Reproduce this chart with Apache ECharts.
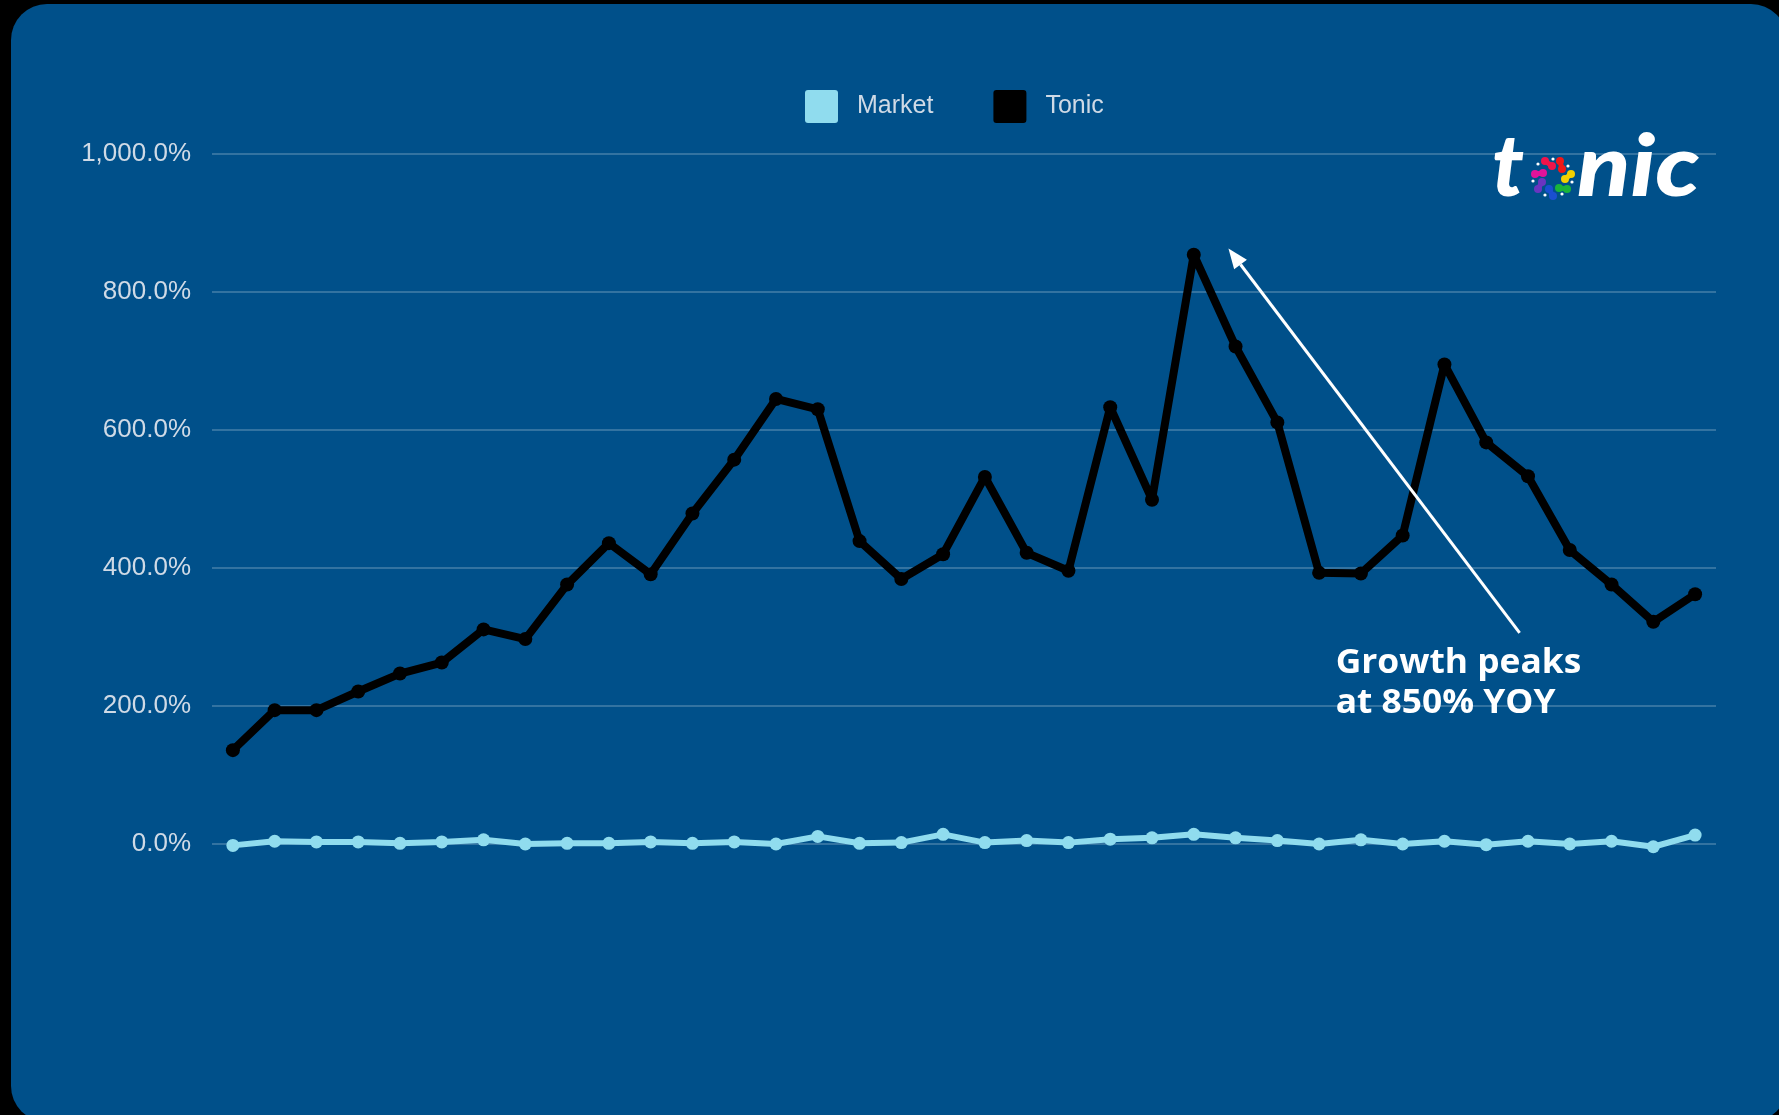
<!DOCTYPE html>
<html><head><meta charset="utf-8">
<script src="https://cdn.jsdelivr.net/npm/echarts@6/dist/echarts.min.js"></script>
<style>
html,body{margin:0;padding:0;background:#000;width:1779px;height:1115px;overflow:hidden}
#card{position:absolute;left:11px;top:4px;width:1776px;height:1118px;border-radius:36px;background:#00508a}
#chart{position:absolute;left:0;top:0;width:1779px;height:1115px}
</style></head><body>
<div id="card"></div><div id="chart"></div>
<script>
// ---- data ----
const categories = ['1','2','3','4','5','6','7','8','9','10','11','12','13','14','15','16','17','18',
  '19','20','21','22','23','24','25','26','27','28','29','30','31','32','33','34','35','36'];
const marketValues = [-2, 4, 3, 3, 1, 3, 6, 0, 1, 1, 3, 1, 3, 0, 11, 1, 2, 14,
  2, 5, 2, 7, 9, 14, 9, 5, 0, 6, 0, 4, -1, 4, 0, 4, -4, 13];
const tonicValues = [136, 194, 194, 221, 247, 263, 311, 297, 376, 436, 391, 479, 557, 645, 630, 439, 384, 420,
  532, 422, 396, 633, 499, 854, 721, 611, 393, 392, 447, 695, 582, 533, 426, 376, 322, 362];
const yTicks = [0, 200, 400, 600, 800, 1000];
const seriesNames = ['Market', 'Tonic'];
const annotationLines = ['Growth peaks', 'at 850% YOY'];
// annotation arrow in data space: [category index (fractional), value]
const arrowTail = [30.8, 306];
const arrowTip = [23.83, 863];

const C_MARKET = '#90dcee', C_TONIC = '#000000', C_LABEL = '#cfdae6';

const chart = echarts.init(document.getElementById('chart'), null, {renderer: 'canvas'});
const fmt = v => v.toLocaleString('en-US', {minimumFractionDigits: 1, maximumFractionDigits: 1}) + '%';
const sq = 'path://M3,0 H30 A3,3 0 0 1 33,3 V30 A3,3 0 0 1 30,33 H3 A3,3 0 0 1 0,30 V3 A3,3 0 0 1 3,0 Z';

chart.setOption({
  backgroundColor: 'transparent',
  animation: false,
  textStyle: {fontFamily: '"Liberation Sans", Arial, sans-serif'},
  legend: {
    left: 805, top: 90, padding: 0, itemWidth: 33, itemHeight: 33, itemGap: 60,
    icon: sq,
    textStyle: {color: C_LABEL, fontSize: 25, padding: [0, 0, 0, 14]},
    data: seriesNames.map((n, i) => ({name: n, itemStyle: {color: i === 0 ? C_MARKET : C_TONIC}}))
  },
  grid: {left: 212, right: 63, top: 154, bottom: 271, containLabel: false},
  xAxis: {
    type: 'category', data: categories, boundaryGap: true,
    axisLine: {show: false}, axisTick: {show: false}, axisLabel: {show: false}, splitLine: {show: false}
  },
  yAxis: {
    type: 'value', min: yTicks[0], max: yTicks[yTicks.length - 1], interval: yTicks[1] - yTicks[0],
    axisLine: {show: false}, axisTick: {show: false},
    axisLabel: {color: C_LABEL, fontSize: 26, margin: 21, formatter: fmt},
    splitLine: {lineStyle: {color: 'rgba(255,255,255,0.2)', width: 2}}
  },
  series: [
    {name: seriesNames[0], type: 'line', data: marketValues, clip: false, symbol: 'circle', symbolSize: 13,
     lineStyle: {color: C_MARKET, width: 6}, itemStyle: {color: C_MARKET}, z: 3},
    {name: seriesNames[1], type: 'line', data: tonicValues, clip: false, symbol: 'circle', symbolSize: 14,
     lineStyle: {color: C_TONIC, width: 8}, itemStyle: {color: C_TONIC}, z: 2}
  ]
});

// fractional category position -> pixel (interpolated between neighbouring categories)
function toPx(pt) {
  const i0 = Math.floor(pt[0]), f = pt[0] - i0;
  const a = chart.convertToPixel({gridIndex: 0}, [i0, pt[1]]);
  const b = chart.convertToPixel({gridIndex: 0}, [i0 + 1, pt[1]]);
  return [a[0] + (b[0] - a[0]) * f, a[1]];
}

// ---- annotation arrow & text ----
const tail = toPx(arrowTail);
const tip = toPx(arrowTip);
const dx = tip[0] - tail[0], dy = tip[1] - tail[1];
const len = Math.sqrt(dx * dx + dy * dy), ux = dx / len, uy = dy / len;
const headL = 20, headW = 8;
const base = [tip[0] - ux * headL, tip[1] - uy * headL];
const annFont = '700 34px "Open Sans", sans-serif';
const graphics = [
  {type: 'line', shape: {x1: tail[0], y1: tail[1], x2: base[0], y2: base[1]},
   style: {stroke: '#ffffff', lineWidth: 3}, z: 10},
  {type: 'polygon', shape: {points: [tip, [base[0] - uy * headW, base[1] + ux * headW], [base[0] + uy * headW, base[1] - ux * headW]]},
   style: {fill: '#ffffff'}, z: 10},
  {type: 'text', x: tail[0] - 184, y: tail[1] + 30.5, scaleX: 1.04,
   style: {text: annotationLines[0], fill: '#ffffff', font: annFont, verticalAlign: 'middle'}, z: 10},
  {type: 'text', x: tail[0] - 184, y: tail[1] + 70.5, scaleX: 1.04,
   style: {text: annotationLines[1], fill: '#ffffff', font: annFont, verticalAlign: 'middle'}, z: 10}
];

// ---- logo ----
const logoFont = 'italic 900 86px Lato, sans-serif';
graphics.push({type: 'text', x: 1492, y: 211, style: {text: 't', fill: '#fff', font: logoFont, verticalAlign: 'bottom'}, z: 10});
graphics.push({type: 'text', x: 1577, y: 211, scaleX: 1.14, style: {text: 'nic', fill: '#fff', font: logoFont, verticalAlign: 'bottom'}, z: 10});
const pairs = [
  ['#e0139a', [1535, 174], [1543, 173]],
  ['#f0144a', [1545, 161], [1552, 166]],
  ['#f01818', [1560, 161], [1562, 169]],
  ['#f5d000', [1565, 179], [1571, 174]],
  ['#19b43a', [1559, 188], [1567, 189]],
  ['#1a4fd0', [1549, 189], [1553, 196]],
  ['#6a35c0', [1542, 182], [1538, 189]]
];
pairs.forEach(p => {
  graphics.push({type: 'line', shape: {x1: p[1][0], y1: p[1][1], x2: p[2][0], y2: p[2][1]}, style: {stroke: p[0], lineWidth: 5}, z: 11});
  graphics.push({type: 'circle', shape: {cx: p[1][0], cy: p[1][1], r: 4}, style: {fill: p[0]}, z: 11});
  graphics.push({type: 'circle', shape: {cx: p[2][0], cy: p[2][1], r: 4}, style: {fill: p[0]}, z: 11});
});
[[1538, 164], [1553, 159], [1568, 166], [1572, 182], [1562, 194], [1545, 195], [1533, 181]].forEach(d => {
  graphics.push({type: 'circle', shape: {cx: d[0], cy: d[1], r: 1.6}, style: {fill: '#ffffff'}, z: 11});
});
chart.setOption({graphic: graphics});
</script>
</body></html>
